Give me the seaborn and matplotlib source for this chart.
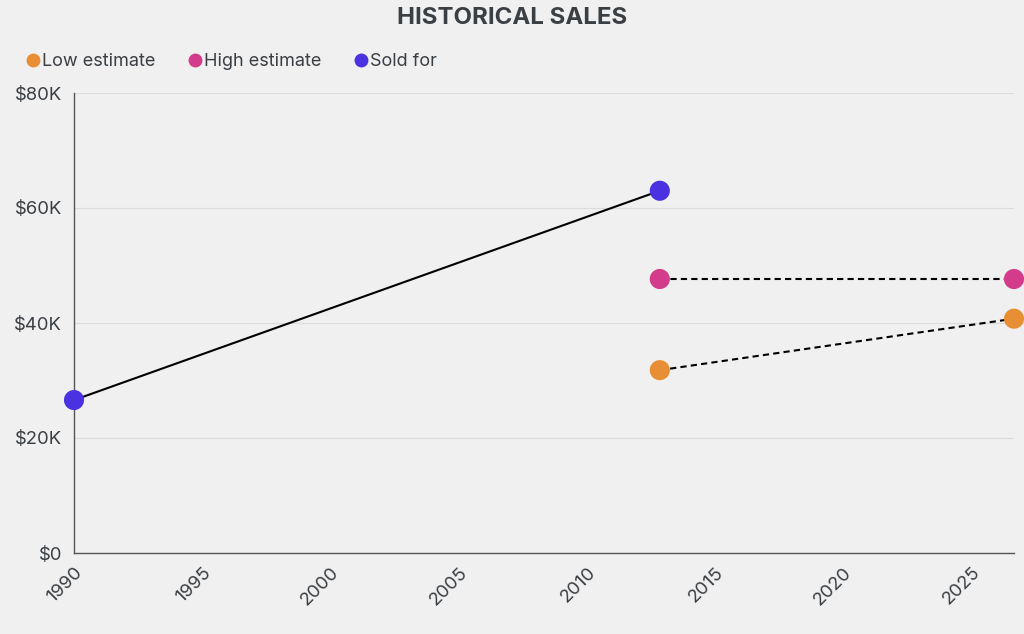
import matplotlib
matplotlib.use("Agg")
import matplotlib.pyplot as plt
import matplotlib.ticker as mticker
import pandas as pd
import seaborn as sns

# データ
sold_years = [1990.0, 2012.84]
sold_values = [26600, 63000]
high_years = [2012.84, 2026.65]
high_values = [47650, 47650]
low_years = [2012.84, 2026.65]
low_values = [31800, 40750]

series_names = ["Low estimate", "High estimate", "Sold for"]
series_colors = ["#E88F35", "#D33C8A", "#4B32E0"]

sns.set_theme(style="white")
plt.rcParams["font.family"] = ["Inter", "DejaVu Sans"]

df = pd.concat([
    pd.DataFrame({"year": low_years, "value": low_values, "series": "Low estimate"}),
    pd.DataFrame({"year": high_years, "value": high_values, "series": "High estimate"}),
    pd.DataFrame({"year": sold_years, "value": sold_values, "series": "Sold for"}),
], ignore_index=True)

bg = "#F0F0F0"
fig = plt.figure(figsize=(10.24, 6.34), dpi=100, facecolor=bg)
ax = fig.add_axes([74 / 1024, 81 / 634, (1014 - 74) / 1024, (553 - 93) / 634])
ax.set_facecolor(bg)

# 線（推定値は破線、落札価格は実線）
for name in series_names:
    sub = df[df["series"] == name]
    sns.lineplot(data=sub, x="year", y="value", ax=ax, color="black",
                 linewidth=1.5, linestyle="-" if name == "Sold for" else (0, (3, 2)),
                 legend=False, zorder=2)

sns.scatterplot(data=df, x="year", y="value", hue="series", hue_order=series_names,
                palette=series_colors, s=210, edgecolor="none", ax=ax,
                legend=False, zorder=3, clip_on=False)

ax.set_xlim(1990, 2026.65)
ax.set_ylim(0, 80000)
ax.xaxis.set_major_locator(mticker.MultipleLocator(5))
ax.yaxis.set_major_locator(mticker.MultipleLocator(20000))
ax.yaxis.set_major_formatter(mticker.FuncFormatter(
    lambda v, _: "$0" if v == 0 else f"${v / 1000:.0f}K"))
ax.grid(axis="y", color="#DCDCDC", linewidth=0.8)
ax.set_axisbelow(True)
for side in ("top", "right"):
    ax.spines[side].set_visible(False)
for side in ("left", "bottom"):
    ax.spines[side].set_color("#555555")
    ax.spines[side].set_linewidth(1.0)
ax.tick_params(axis="both", colors="#555555", length=5, width=1,
               labelsize=13.3, labelcolor="#3A3F44")
ax.tick_params(axis="x", pad=3)
plt.setp(ax.get_xticklabels(), rotation=45, ha="right", rotation_mode="anchor")
ax.set_xlabel("")
ax.set_ylabel("")

fig.text(0.5, 1 - 18 / 634, "HISTORICAL SALES", ha="center", va="center",
         fontsize=17.3, fontweight="bold", color="#3A3F44")

handles = [plt.Line2D([], [], marker="o", linestyle="none", markersize=10,
                      markerfacecolor=c, markeredgecolor="none") for c in series_colors]
fig.legend(handles, series_names, loc="center left", bbox_to_anchor=(6 / 1024, 1 - 62 / 634),
           ncols=3, frameon=False, handletextpad=-0.1, columnspacing=1.6,
           handlelength=1.2, fontsize=13, labelcolor="#3A3F44")

fig.savefig("out.png", dpi=100, facecolor=bg)
plt.close(fig)
